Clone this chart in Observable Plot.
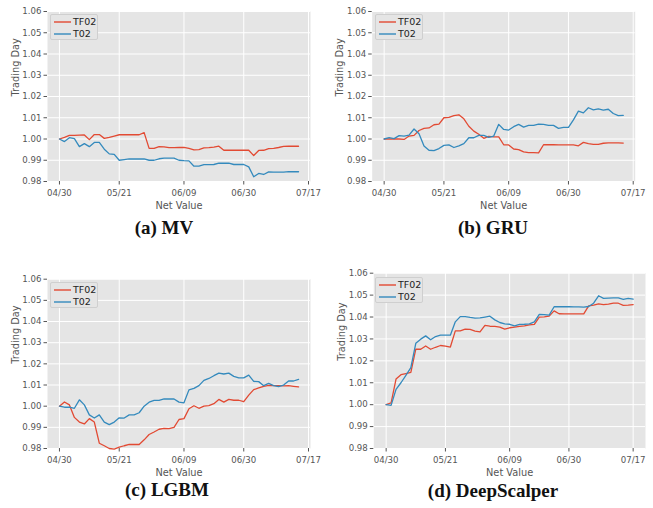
<!DOCTYPE html>
<html>
<head>
<meta charset="utf-8">
<script src="https://cdn.jsdelivr.net/npm/d3@7"></script>
<script src="https://cdn.jsdelivr.net/npm/@observablehq/plot@0.6"></script>
<style>
  html, body { margin: 0; padding: 0; background: #ffffff; }
  #fig { position: relative; width: 653px; height: 508px; overflow: hidden; font-family: "DejaVu Sans", sans-serif; }
  .pnl { position: absolute; }
  .title { position: absolute; width: 300px; text-align: center; font-family: "Liberation Serif", serif; font-weight: bold; font-size: 19px; color: #111; line-height: 1; }
  .legend { position: absolute; background: #E5E5E5; border: 1px solid #cfcfcf; border-radius: 2px; box-sizing: border-box; }
  .legend .item { position: absolute; left: 0; height: 12px; width: 100%; }
  .legend svg { position: absolute; left: 2px; top: 0; }
  .legend .lb { position: absolute; left: 22px; top: 0; font-size: 9.5px; line-height: 12px; color: #222; }
</style>
</head>
<body>
<div id="fig"></div>
<script>
// ---- data ----
const seriesNames = ["TF02", "T02"];
const seriesColors = ["#E24A33", "#348ABD"];
const tickIdx = [0, 12, 25, 37, 50];
const tickLabels = ["04/30", "05/21", "06/09", "06/30", "07/17"];
const yTicks = [0.98, 0.99, 1.00, 1.01, 1.02, 1.03, 1.04, 1.05, 1.06];
const panelTitles = ["(a) MV", "(b) GRU", "(c) LGBM", "(d) DeepScalper"];

const mvTF02 = [1.0000,1.0008,1.0017,1.0017,1.0018,1.0019,0.9997,1.0021,1.0021,1.0003,1.0008,1.0014,1.0020,1.0020,1.0020,1.0020,1.0020,1.0030,0.9956,0.9956,0.9964,0.9963,0.9959,0.9959,0.9960,0.9961,0.9956,0.9949,0.9950,0.9958,0.9959,0.9962,0.9966,0.9947,0.9947,0.9947,0.9947,0.9947,0.9947,0.9922,0.9946,0.9947,0.9955,0.9956,0.9960,0.9965,0.9966,0.9966,0.9966];
const mvT02 = [1.0000,0.9988,1.0006,1.0002,0.9964,0.9978,0.9964,0.9984,0.9984,0.9952,0.9930,0.9928,0.9900,0.9903,0.9906,0.9906,0.9906,0.9906,0.9900,0.9900,0.9907,0.9910,0.9910,0.9910,0.9900,0.9898,0.9897,0.9872,0.9872,0.9879,0.9879,0.9880,0.9886,0.9886,0.9886,0.9880,0.9880,0.9880,0.9869,0.9822,0.9838,0.9833,0.9845,0.9844,0.9844,0.9844,0.9846,0.9846,0.9846];

const gruTF02 = [1.0000,1.0000,1.0000,1.0000,0.9998,1.0014,1.0017,1.0040,1.0050,1.0052,1.0067,1.0070,1.0100,1.0102,1.0110,1.0114,1.0095,1.0060,1.0037,1.0022,1.0003,1.0012,1.0010,1.0010,0.9973,0.9972,0.9953,0.9950,0.9939,0.9936,0.9936,0.9935,0.9973,0.9973,0.9973,0.9972,0.9972,0.9972,0.9972,0.9968,0.9984,0.9978,0.9975,0.9975,0.9980,0.9982,0.9982,0.9982,0.9981];
const gruT02 = [1.0000,1.0006,1.0002,1.0016,1.0014,1.0018,1.0047,1.0025,0.9967,0.9947,0.9945,0.9955,0.9970,0.9972,0.9960,0.9968,0.9978,1.0006,1.0006,1.0017,1.0017,1.0008,1.0014,1.0069,1.0045,1.0042,1.0058,1.0069,1.0056,1.0064,1.0064,1.0070,1.0069,1.0064,1.0064,1.0050,1.0055,1.0055,1.0090,1.0131,1.0123,1.0147,1.0137,1.0142,1.0136,1.0140,1.0120,1.0110,1.0111];

const lgbmTF02 = [1.0000,1.0020,1.0006,0.9947,0.9925,0.9916,0.9941,0.9925,0.9825,0.9813,0.9800,0.9797,0.9806,0.9813,0.9819,0.9819,0.9819,0.9841,0.9866,0.9878,0.9891,0.9895,0.9894,0.9900,0.9937,0.9941,0.9988,1.0002,0.9990,1.0000,1.0003,1.0012,1.0032,1.0019,1.0032,1.0028,1.0028,1.0021,1.0052,1.0078,1.0086,1.0094,1.0098,1.0097,1.0097,1.0096,1.0097,1.0094,1.0091];
const lgbmT02 = [1.0000,0.9995,0.9995,0.9990,1.0030,1.0006,0.9959,0.9944,0.9959,0.9925,0.9913,0.9925,0.9945,0.9944,0.9959,0.9959,0.9969,1.0000,1.0019,1.0027,1.0027,1.0034,1.0034,1.0034,1.0019,1.0016,1.0077,1.0084,1.0097,1.0122,1.0131,1.0144,1.0156,1.0152,1.0156,1.0141,1.0134,1.0134,1.0147,1.0117,1.0116,1.0097,1.0108,1.0097,1.0092,1.0100,1.0119,1.0119,1.0127];

const dsTF02 = [1.0000,1.0008,1.0117,1.0137,1.0142,1.0147,1.0253,1.0253,1.0268,1.0253,1.0262,1.0270,1.0267,1.0263,1.0337,1.0337,1.0345,1.0344,1.0336,1.0332,1.0362,1.0358,1.0357,1.0354,1.0345,1.0351,1.0354,1.0357,1.0360,1.0364,1.0366,1.0400,1.0401,1.0404,1.0428,1.0415,1.0414,1.0414,1.0414,1.0414,1.0414,1.0451,1.0454,1.0460,1.0457,1.0459,1.0463,1.0463,1.0453,1.0454,1.0457];
const dsT02 = [1.0000,0.9997,1.0070,1.0100,1.0134,1.0169,1.0280,1.0299,1.0314,1.0296,1.0311,1.0317,1.0317,1.0317,1.0378,1.0402,1.0402,1.0398,1.0395,1.0396,1.0400,1.0404,1.0387,1.0375,1.0369,1.0367,1.0360,1.0366,1.0367,1.0369,1.0378,1.0412,1.0411,1.0409,1.0447,1.0447,1.0447,1.0447,1.0446,1.0446,1.0445,1.0448,1.0463,1.0497,1.0485,1.0486,1.0487,1.0487,1.0481,1.0485,1.0482];

// ---- layout ----
const layout = [
  {tf: mvTF02,   t: mvT02,   left: 0,   top: 0,   width: 325, height: 212, ml: 47,   mr: 15,   mt: 11,   mb: 31, title: {x: 14,  y: 218}, legend: {x: 50,  y: 14}},
  {tf: gruTF02,  t: gruT02,  left: 325, top: 0,   width: 325, height: 212, ml: 46.7, mr: 15.3, mt: 11,   mb: 31, title: {x: 343, y: 218}, legend: {x: 375, y: 14}},
  {tf: lgbmTF02, t: lgbmT02, left: 0,   top: 265, width: 325, height: 214, ml: 47,   mr: 15,   mt: 13.7, mb: 31, title: {x: 17,  y: 480}, legend: {x: 50,  y: 282}},
  {tf: dsTF02,   t: dsT02,   left: 325, top: 262, width: 328, height: 217, ml: 48.3, mr: 8,    mt: 10.7, mb: 31, title: {x: 343, y: 481}, legend: {x: 375, y: 277}}
];

const fig = document.getElementById("fig");

layout.forEach((p, k) => {
  const rows = [];
  p.tf.forEach((v, i) => rows.push({i, v, s: seriesNames[0]}));
  p.t.forEach((v, i) => rows.push({i, v, s: seriesNames[1]}));
  const n = Math.max(p.tf.length, p.t.length) - 1;
  const pad = n * 0.05;
  const chart = Plot.plot({
    width: p.width,
    height: p.height,
    marginLeft: p.ml,
    marginRight: p.mr,
    marginTop: p.mt,
    marginBottom: p.mb,
    style: {background: "transparent", fontFamily: "DejaVu Sans", fontSize: "8.6px", color: "#555555", overflow: "visible"},
    x: {domain: [-pad, n + pad]},
    y: {domain: [0.98, 1.06]},
    color: {domain: seriesNames, range: seriesColors},
    marks: [
      Plot.frame({fill: "#E5E5E5", stroke: null}),
      Plot.gridX(tickIdx, {stroke: "#ffffff", strokeOpacity: 1, strokeWidth: 1}),
      Plot.gridY(yTicks, {stroke: "#ffffff", strokeOpacity: 1, strokeWidth: 1}),
      Plot.axisX({ticks: tickIdx, tickFormat: d => tickLabels[tickIdx.indexOf(d)], tickSize: 3.5, tickPadding: 4.5, label: null, stroke: "#555555", fill: "#555555"}),
      Plot.axisY({ticks: yTicks, tickFormat: d => d.toFixed(2), tickSize: 3.5, tickPadding: 2.5, label: null, stroke: "#555555", fill: "#555555"}),
      Plot.line(rows, {x: "i", y: "v", z: "s", stroke: "s", strokeWidth: 1.3}),
      Plot.text(["Net Value"], {frameAnchor: "bottom", lineAnchor: "middle", dy: 24, fontSize: 9.8, fill: "#555555"}),
      Plot.text(["Trading Day"], {frameAnchor: "left", lineAnchor: "middle", dx: -32, rotate: -90, fontSize: 9.8, fill: "#555555"})
    ]
  });
  const wrap = document.createElement("div");
  wrap.className = "pnl";
  wrap.style.left = p.left + "px";
  wrap.style.top = p.top + "px";
  wrap.appendChild(chart);
  fig.appendChild(wrap);

  // legend
  const lg = document.createElement("div");
  lg.className = "legend";
  lg.style.left = p.legend.x + "px";
  lg.style.top = p.legend.y + "px";
  lg.style.width = "48px";
  lg.style.height = "26px";
  seriesNames.forEach((s, j) => {
    const it = document.createElement("div");
    it.className = "item";
    it.style.top = (1 + j * 11.6) + "px";
    it.innerHTML = '<svg width="19" height="12"><line x1="1" x2="18" y1="6" y2="6" stroke="' + seriesColors[j] + '" stroke-width="1.4"/></svg>';
    const lb = document.createElement("div");
    lb.className = "lb";
    lb.textContent = s;
    it.appendChild(lb);
    lg.appendChild(it);
  });
  fig.appendChild(lg);

  // title
  const tt = document.createElement("div");
  tt.className = "title";
  tt.style.left = p.title.x + "px";
  tt.style.top = p.title.y + "px";
  tt.textContent = panelTitles[k];
  fig.appendChild(tt);
});
</script>
</body>
</html>
